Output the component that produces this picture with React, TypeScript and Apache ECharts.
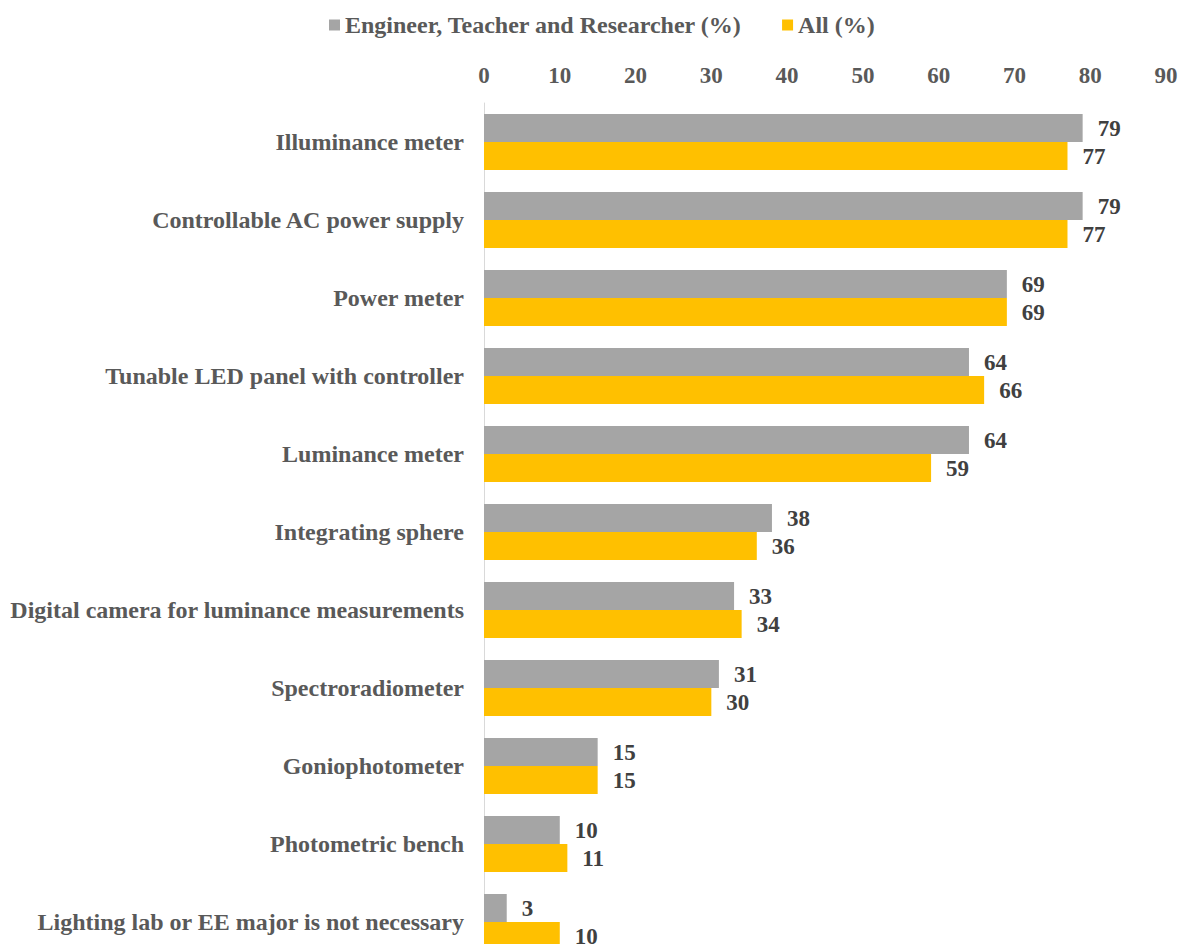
import React, { useEffect, useRef } from "react";
import * as echarts from "echarts";

const categories = [
  "Illuminance meter",
  "Controllable AC power supply",
  "Power meter",
  "Tunable LED panel with controller",
  "Luminance meter",
  "Integrating sphere",
  "Digital camera for luminance measurements",
  "Spectroradiometer",
  "Goniophotometer",
  "Photometric bench",
  "Lighting lab or EE major is not necessary",
];
const engineerValues = [79, 79, 69, 64, 64, 38, 33, 31, 15, 10, 3];
const allValues = [77, 77, 69, 66, 59, 36, 34, 30, 15, 11, 10];
const seriesNames = ["Engineer, Teacher and Researcher (%)", "All (%)"];

const FONT = "'Liberation Serif', 'Times New Roman', serif";
const TEXT = "#595959";

export default function App() {
  const ref = useRef<HTMLDivElement>(null);
  useEffect(() => {
    if (!ref.current) return;
    const chart = echarts.init(ref.current, undefined, { renderer: "svg" });
    const valueLabel = {
      show: true,
      position: "right",
      distance: 15,
      fontFamily: FONT,
      fontSize: 23,
      fontWeight: "bold",
      color: "#404040",
    };
    chart.setOption({
      animation: false,
      textStyle: { fontFamily: FONT },
      legend: {
        top: 8,
        left: 324,
        itemWidth: 11,
        itemHeight: 11,
        itemGap: 40,
        icon: "rect",
        textStyle: { fontFamily: FONT, fontSize: 24, fontWeight: "bold", color: TEXT },
        data: seriesNames,
      },
      grid: {
        left: 484,
        right: 15,
        top: 103,
        bottom: -17,
        containLabel: false,
        outerBoundsMode: "none",
      },
      xAxis: {
        type: "value",
        position: "top",
        min: 0,
        max: 90,
        interval: 10,
        axisLine: { show: false },
        axisTick: { show: false },
        splitLine: { show: false },
        axisLabel: { fontFamily: FONT, fontSize: 23, fontWeight: "bold", color: TEXT, margin: 16 },
      },
      yAxis: {
        type: "category",
        inverse: true,
        data: categories,
        axisLine: { show: true, lineStyle: { color: "#d9d9d9", width: 1 } },
        axisTick: { show: false },
        axisLabel: { fontFamily: FONT, fontSize: 24, fontWeight: "bold", color: TEXT, margin: 20 },
      },
      series: [
        {
          name: seriesNames[0],
          type: "bar",
          data: engineerValues,
          barWidth: 28,
          barGap: "0%",
          itemStyle: { color: "#A5A5A5" },
          label: valueLabel,
        },
        {
          name: seriesNames[1],
          type: "bar",
          data: allValues,
          barWidth: 28,
          barGap: "0%",
          itemStyle: { color: "#FFC000" },
          label: valueLabel,
        },
      ],
    });
    return () => chart.dispose();
  }, []);
  return (
    <div
      ref={ref}
      style={{ position: "absolute", left: 0, top: 0, width: 1181, height: 944, overflow: "hidden" }}
    />
  );
}
